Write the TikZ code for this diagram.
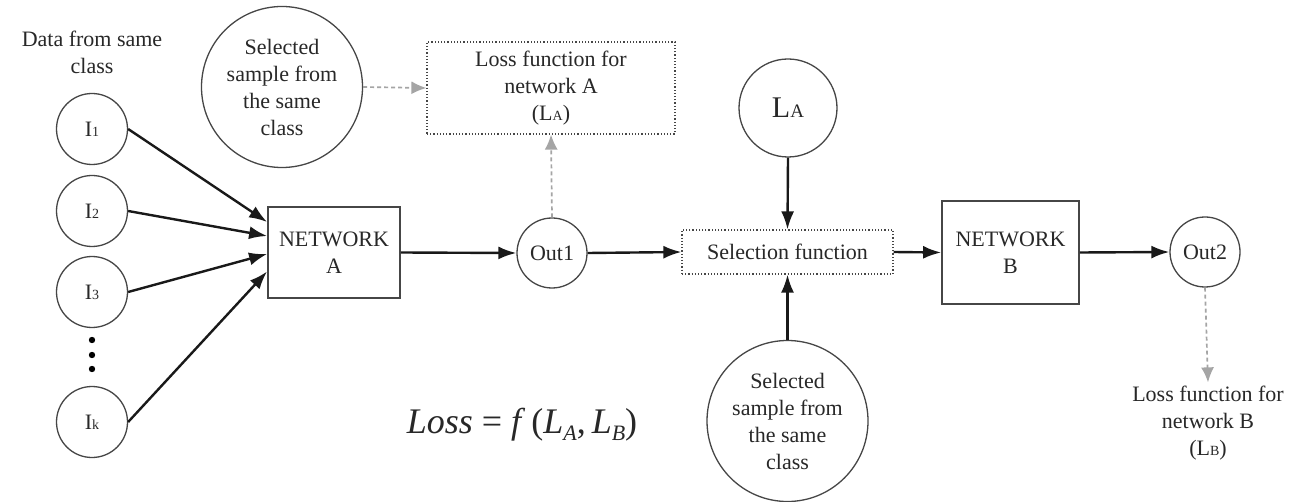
\documentclass[tikz,border=0pt]{standalone}
\usepackage{fontspec}
\setmainfont{Liberation Serif}
\usetikzlibrary{arrows.meta}
\definecolor{dgray}{RGB}{70,70,70}
\definecolor{lgray}{RGB}{165,165,165}
\definecolor{txt}{RGB}{40,40,40}
\newcommand{\smc}[1]{{\fontsize{14}{14}\selectfont #1}}
\begin{document}
\begin{tikzpicture}[x=1pt,y=-1pt,
  every node/.style={font=\fontsize{22}{27}\selectfont, align=center, text=txt},
  circ/.style={draw=dgray, line width=1.3pt, circle, inner sep=0pt},
  netbox/.style={draw=dgray, line width=1.8pt, rectangle, inner sep=0pt},
  dotbox/.style={draw=dgray, line width=1.2pt, dotted, rectangle, inner sep=0pt},
  arr/.style={line width=2.4pt, black!90, -{Latex[length=18pt,width=13pt]}},
  garr/.style={line width=1.7pt, lgray, dash pattern=on 4pt off 3pt, -{Latex[length=15pt,width=13pt]}},
]
\useasboundingbox (0,0) rectangle (1289,502);
\fill[white] (0,0) rectangle (1289,502);

% left inputs
\node (data) at (92,52) {Data from same\\class};
\node[circ, minimum size=71pt] (I1) at (92,129) {I\smc{1}};
\node[circ, minimum size=71pt] (I2) at (92,211) {I\smc{2}};
\node[circ, minimum size=71pt] (I3) at (92,292) {I\smc{3}};
\node[circ, minimum size=71pt] (Ik) at (92,422) {I\smc{k}};
\fill[black] (92,340) circle (3.2) (92,355) circle (3.2) (92,369) circle (3.2);

% network A and branch
\node[netbox, minimum width=132pt, minimum height=91pt] (NA) at (334,252.5) {NETWORK\\A};
\node[circ, minimum size=70pt] (O1) at (552,253) {Out1};
\node[circ, minimum size=161pt] (S1) at (282,87) {Selected\\sample from\\the same\\class};
\node[dotbox, minimum width=248pt, minimum height=92pt] (LossA) at (551,88) {Loss function for\\network A\\(L\smc{A})};

% selection
\node[dotbox, minimum width=211pt, minimum height=44pt] (Sel) at (787.5,252) {Selection function};
\node[circ, minimum size=98pt] (LA) at (788,108) {{\fontsize{30}{30}\selectfont L}{\fontsize{19}{19}\selectfont A}};
\node[circ, minimum size=161pt] (S2) at (787.5,421) {Selected\\sample from\\the same\\class};

% network B
\node[netbox, minimum width=137pt, minimum height=103pt] (NB) at (1010.5,252.5) {NETWORK\\B};
\node[circ, minimum size=70pt] (O2) at (1205,252) {Out2};
\node (LossB) at (1208,423) {Loss function for\\network B\\(L\smc{B})};

% formula
\node (F) at (522,425) {\fontsize{36}{36}\selectfont\itshape Loss\/ \upshape= \itshape f\/\,\upshape(\itshape L\/\raisebox{-7pt}{\fontsize{22}{22}\selectfont A}\upshape,\,\itshape L\/\raisebox{-7pt}{\fontsize{22}{22}\selectfont B}\upshape)};

% connectors
\draw[arr] (I1.east) -- ([yshift=30.5pt]NA.west);
\draw[arr] (I2.east) -- ([yshift=16.5pt]NA.west);
\draw[arr] (I3.east) -- ([yshift=-1.5pt]NA.west);
\draw[arr] (Ik.east) -- ([yshift=-19pt]NA.west);
\draw[arr] (NA.east) -- (O1.west);
\draw[arr] (O1.east) -- (Sel.west);
\draw[arr] (Sel.east) -- (NB.west);
\draw[arr] (NB.east) -- (O2.west);
\draw[arr] (LA.south) -- (Sel.north);
\draw[arr] (S2.north) -- (Sel.south);
\draw[garr] (S1.east) -- (LossA.west);
\draw[garr] (O1.north) -- (LossA.south);
\draw[garr] (O2.south) -- (LossB.north);
\end{tikzpicture}
\end{document}
